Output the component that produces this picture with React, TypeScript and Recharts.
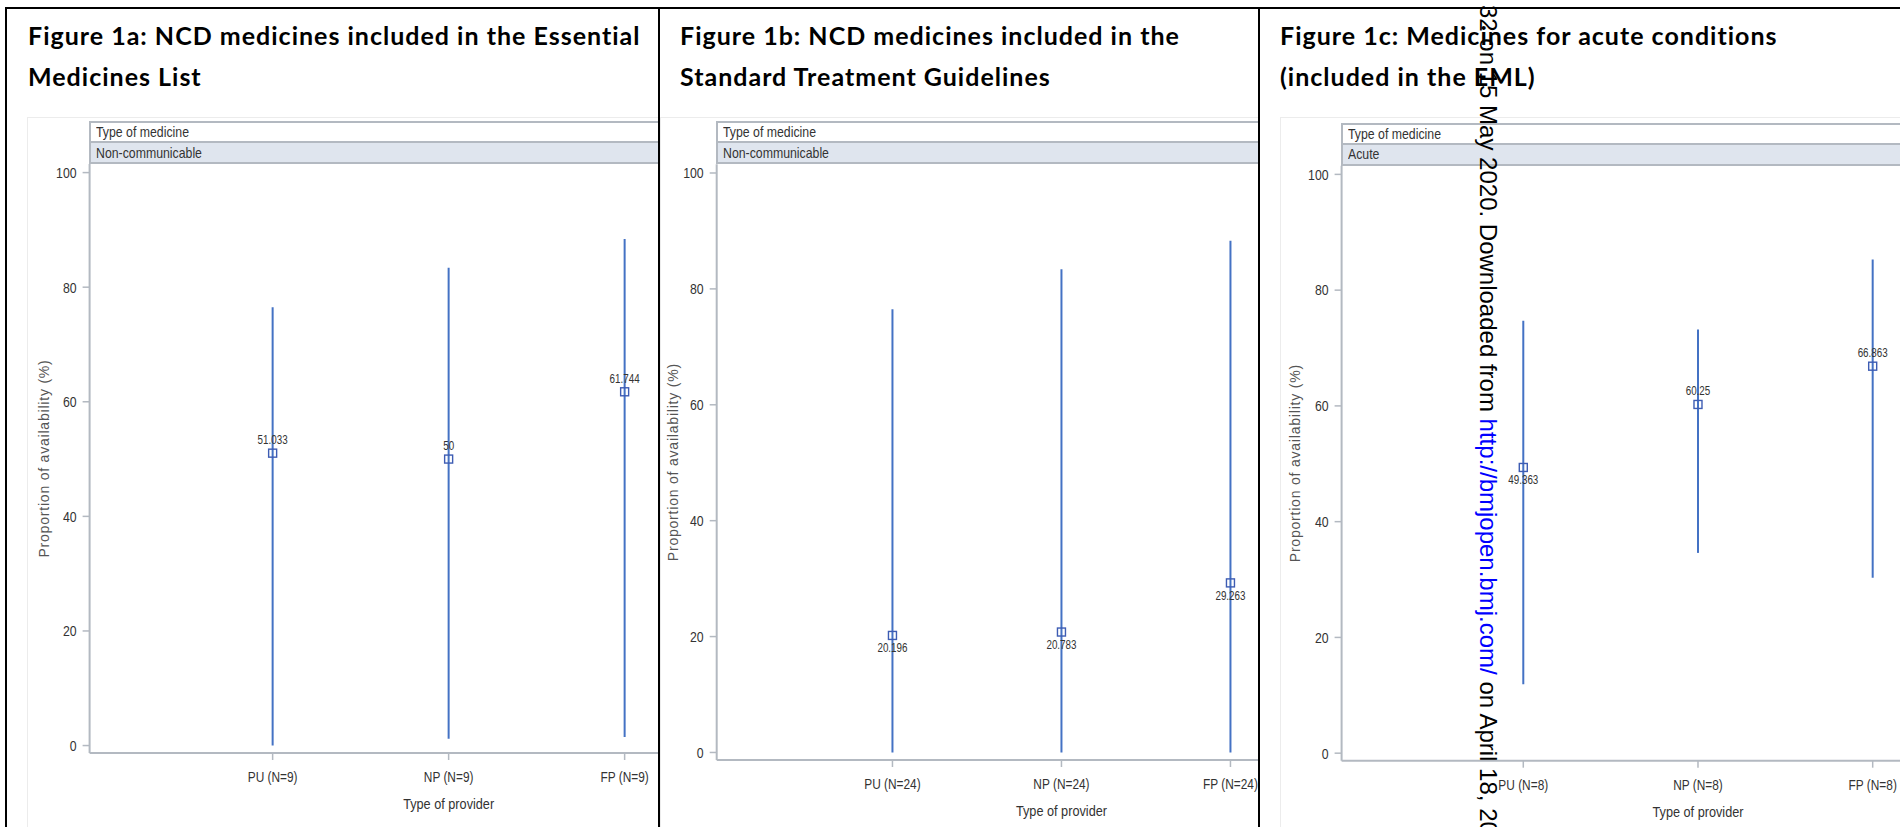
import React from "react";
import { ComposedChart, Scatter, ErrorBar, XAxis, YAxis } from "recharts";

// Figure 1a - NCD medicines included in the EML
const providers1a = ["PU (N=9)", "NP (N=9)", "FP (N=9)"];
const mean1a = [51.033, 50, 61.744];
const low1a = [0, 1.2, 1.5];
const high1a = [76.5, 83.4, 88.4];

// Figure 1b - NCD medicines included in the STG
const providers1b = ["PU (N=24)", "NP (N=24)", "FP (N=24)"];
const mean1b = [20.196, 20.783, 29.263];
const low1b = [0, 0, 0];
const high1b = [76.5, 83.4, 88.3];

// Figure 1c - acute conditions (EML)
const providers1c = ["PU (N=8)", "NP (N=8)", "FP (N=8)"];
const mean1c = [49.363, 60.25, 66.863];
const low1c = [11.9, 34.6, 30.3];
const high1c = [74.7, 73.2, 85.3];

const yTicks = [0, 20, 40, 60, 80, 100];
const xTicks = [1, 2, 3];

// where SAS put the value labels (under the marker or over it)
const below1a = [false, false, false];
const below1b = [true, true, true];
const below1c = [true, false, false];

const ARIAL = "'Liberation Sans', Arial, sans-serif";
const TITLE_FONT = "Lato, 'Open Sans', sans-serif";
const SQUEEZE = 0.82; // SAS uses Arial Narrow, fake it by squeezing Arial
const FRAME = "#b3b9c1";
const LINE = "#4472c4";
const MARK = "#3d5cb3";

type Geo = {
  clipLeft: number;
  clipRight: number;
  imageLeft: number;
  frameLeft: number;
  spacing: number;
  headerTop: number;
  plotTop: number;
  plotBottom: number;
  yLabelX: number;
  titleLeft: number;
};

const Marker = (props: any) => {
  const { cx, cy, payload } = props;
  if (cx == null || cy == null) return null;
  const ly = payload.below ? cy + 17 : cy - 9;
  return (
    <g>
      <rect x={cx - 4} y={cy - 4} width={8} height={8} fill="none" stroke={MARK} strokeWidth={1.4} />
      <text
        transform={`translate(${cx},${ly}) scale(${SQUEEZE},1)`}
        textAnchor="middle"
        fontFamily={ARIAL}
        fontSize={12}
        fill="#333"
      >
        {payload.mean}
      </text>
    </g>
  );
};

const YTick = (props: any) => {
  const { x, y, payload } = props;
  return (
    <text
      transform={`translate(${x},${y}) scale(${SQUEEZE},1)`}
      textAnchor="end"
      dy="0.355em"
      fontFamily={ARIAL}
      fontSize={15}
      fill="#333"
    >
      {payload.value}
    </text>
  );
};

const makeXTick = (providers: string[]) => (props: any) => {
  const { x, y, payload } = props;
  return (
    <text
      transform={`translate(${x},${y}) scale(${SQUEEZE},1)`}
      textAnchor="middle"
      dy="0.71em"
      fontFamily={ARIAL}
      fontSize={14.5}
      fill="#333"
    >
      {providers[payload.value - 1]}
    </text>
  );
};

const XTitle = (props: any) => {
  const vb = props.viewBox;
  if (!vb) return null;
  return (
    <text
      transform={`translate(${vb.x + vb.width / 2},${vb.y + vb.height - 3}) scale(${SQUEEZE},1)`}
      textAnchor="middle"
      fontFamily={ARIAL}
      fontSize={15.5}
      fill="#333"
    >
      Type of provider
    </text>
  );
};

const narrowSpan: React.CSSProperties = {
  display: "inline-block",
  transform: `scaleX(${SQUEEZE})`,
  transformOrigin: "0 50%",
  whiteSpace: "nowrap",
};

function Panel(props: {
  geo: Geo;
  title: string[];
  medicine: string;
  providers: string[];
  mean: number[];
  low: number[];
  high: number[];
  below: boolean[];
}) {
  const { geo, title, medicine, providers, mean, low, high, below } = props;
  const data = mean.map((m, i) => ({
    pos: i + 1,
    mean: m,
    err: [m - low[i], high[i] - m],
    below: below[i],
  }));
  const yAxisW = geo.frameLeft - geo.clipLeft;
  const plotW = geo.spacing * 4.08;
  const xAxisH = 59;
  const chartH = 827;
  const headH = geo.plotTop - geo.headerTop;
  const rowH = (headH - 2) / 2;

  return (
    <div
      style={{
        position: "absolute",
        left: geo.clipLeft,
        top: 0,
        width: geo.clipRight - geo.clipLeft,
        height: 827,
        overflow: "hidden",
      }}
    >
      {/* faint edge of the pasted SAS image */}
      <div
        style={{
          position: "absolute",
          left: geo.imageLeft - geo.clipLeft,
          top: 117,
          width: 2000,
          height: 800,
          borderLeft: "1px solid #ececec",
          borderTop: "1px solid #ececec",
        }}
      />
      <div
        style={{
          position: "absolute",
          left: geo.titleLeft - geo.clipLeft,
          top: 15,
          fontFamily: TITLE_FONT,
          fontWeight: 700,
          fontSize: 25,
          letterSpacing: 1,
          lineHeight: "41px",
          whiteSpace: "nowrap",
          color: "#000",
        }}
      >
        {title.map((t) => (
          <div key={t}>{t}</div>
        ))}
      </div>
      <div
        style={{
          position: "absolute",
          left: geo.frameLeft - geo.clipLeft - 1,
          top: geo.headerTop - 1,
          width: 1200,
          height: headH + 1,
          borderLeft: `2px solid ${FRAME}`,
          borderTop: `2px solid ${FRAME}`,
          boxSizing: "border-box",
          fontFamily: ARIAL,
          fontSize: 15,
          color: "#333",
        }}
      >
        <div
          style={{
            height: rowH,
            borderBottom: `2px solid ${FRAME}`,
            boxSizing: "border-box",
            lineHeight: `${rowH - 2}px`,
            paddingLeft: 5,
          }}
        >
          <span style={narrowSpan}>Type of medicine</span>
        </div>
        <div
          style={{
            height: rowH + 1,
            borderBottom: `2px solid ${FRAME}`,
            boxSizing: "border-box",
            lineHeight: `${rowH - 1}px`,
            paddingLeft: 5,
            background: "#dfe5ee",
          }}
        >
          <span style={narrowSpan}>{medicine}</span>
        </div>
      </div>
      <div style={{ position: "absolute", left: 0, top: 0 }}>
        <ComposedChart
          width={yAxisW + plotW + 10}
          height={chartH}
          data={data}
          margin={{ top: geo.plotTop, right: 10, bottom: chartH - geo.plotBottom - xAxisH, left: 0 }}
        >
          <XAxis
            type="number"
            dataKey="pos"
            domain={[-0.04, 4.04]}
            ticks={xTicks}
            interval={0}
            height={xAxisH}
            axisLine={{ stroke: FRAME, strokeWidth: 2 }}
            tickLine={{ stroke: FRAME, strokeWidth: 1.5 }}
            tickSize={7}
            tickMargin={12}
            tick={makeXTick(providers)}
            label={{ content: XTitle }}
          />
          <YAxis
            type="number"
            domain={[-1.3, 101.5]}
            ticks={yTicks}
            width={yAxisW}
            interval={0}
            axisLine={{ stroke: FRAME, strokeWidth: 2 }}
            tickLine={{ stroke: FRAME, strokeWidth: 1.5 }}
            tickSize={7}
            tickMargin={6}
            tick={YTick}
            label={{
              value: "Proportion of availability (%)",
              angle: -90,
              position: "insideLeft",
              offset: geo.yLabelX - geo.clipLeft,
              style: { textAnchor: "middle", fontFamily: ARIAL, fontSize: 14, letterSpacing: 0.8, fill: "#555" },
            }}
          />
          <Scatter dataKey="mean" shape={Marker} isAnimationActive={false}>
            <ErrorBar
              dataKey="err"
              direction="y"
              width={0}
              stroke={LINE}
              strokeWidth={2}
              isAnimationActive={false}
            />
          </Scatter>
        </ComposedChart>
      </div>
    </div>
  );
}

const geo1a: Geo = {
  clipLeft: 7,
  clipRight: 658,
  imageLeft: 27,
  frameLeft: 89.6,
  spacing: 176,
  headerTop: 122,
  plotTop: 164,
  plotBottom: 753,
  yLabelX: 44,
  titleLeft: 28,
};
const geo1b: Geo = {
  clipLeft: 660,
  clipRight: 1258,
  imageLeft: 660,
  frameLeft: 716.7,
  spacing: 169,
  headerTop: 122,
  plotTop: 164.3,
  plotBottom: 760,
  yLabelX: 672.7,
  titleLeft: 680,
};
const geo1c: Geo = {
  clipLeft: 1260,
  clipRight: 1900,
  imageLeft: 1280,
  frameLeft: 1341.6,
  spacing: 174.7,
  headerTop: 124,
  plotTop: 165.7,
  plotBottom: 760.7,
  yLabelX: 1294.7,
  titleLeft: 1280,
};

export default function App() {
  return (
    <div
      style={{
        position: "absolute",
        left: 0,
        top: 0,
        width: 1900,
        height: 827,
        overflow: "hidden",
        background: "#fff",
      }}
    >
      <Panel
        geo={geo1a}
        title={["Figure 1a: NCD medicines included in the Essential", "Medicines List"]}
        medicine="Non-communicable"
        providers={providers1a}
        mean={mean1a}
        low={low1a}
        high={high1a}
        below={below1a}
      />
      <Panel
        geo={geo1b}
        title={["Figure 1b: NCD medicines included in the", "Standard Treatment Guidelines"]}
        medicine="Non-communicable"
        providers={providers1b}
        mean={mean1b}
        low={low1b}
        high={high1b}
        below={below1b}
      />
      <Panel
        geo={geo1c}
        title={["Figure 1c: Medicines for acute conditions", "(included in the EML)"]}
        medicine="Acute"
        providers={providers1c}
        mean={mean1c}
        low={low1c}
        high={high1c}
        below={below1c}
      />

      {/* table borders */}
      <div style={{ position: "absolute", left: 5, top: 7, width: 1895, height: 2, background: "#000" }} />
      <div style={{ position: "absolute", left: 5, top: 7, width: 2, height: 820, background: "#000" }} />
      <div style={{ position: "absolute", left: 658, top: 7, width: 2, height: 820, background: "#000" }} />
      <div style={{ position: "absolute", left: 1258, top: 7, width: 2, height: 820, background: "#000" }} />

      {/* download stamp */}
      <div
        style={{
          position: "absolute",
          left: 1500,
          top: 5,
          transform: "rotate(90deg)",
          transformOrigin: "0 0",
          whiteSpace: "nowrap",
          fontFamily: ARIAL,
          fontSize: 24,
          lineHeight: "24px",
          color: "#000",
        }}
      >
        32 on 15 May 2020. Downloaded from <span style={{ color: "#0000ff" }}>http://bmjopen.bmj.com/</span> on April 18, 20
      </div>
    </div>
  );
}
